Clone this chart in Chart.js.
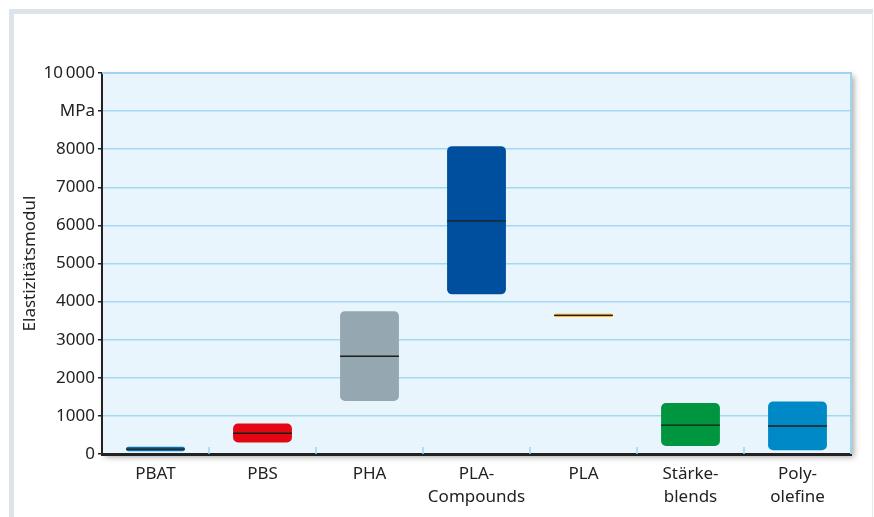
<!DOCTYPE html>
<html>
<head>
<meta charset="utf-8">
<script src="https://cdn.jsdelivr.net/npm/chart.js@4.4.0/dist/chart.umd.min.js"></script>
<style>
  html, body { margin: 0; padding: 0; background: #fff; }
  #frame {
    position: absolute; left: 9px; top: 9px; width: 858px; height: 520px;
    border-top: 5px solid #dce3ea; border-left: 5px solid #dce3ea; border-right: 1px solid #e6ebef;
  }
  #wrap { position: absolute; left: 0; top: 0; width: 874px; height: 517px; }
</style>
</head>
<body>
<div id="frame"></div>
<div id="wrap"><canvas id="myChart" width="874" height="517"></canvas></div>
<script>
// Elastizitätsmodul ranges (MPa)
const categories = ['PBAT', 'PBS', 'PHA', ['PLA-', 'Compounds'], 'PLA', ['Stärke-', 'blends'], ['Poly-', 'olefine']];
const lowValues = [70, 300, 1390, 4190, 3600, 210, 100];
const highValues = [190, 800, 3750, 8080, 3680, 1340, 1380];
const medianValues = [130, 545, 2565, 6120, 3640, 760, 735];
const barColors = ['#0a70aa', '#e30613', '#95a7b1', '#004f9f', '#f3a400', '#00963f', '#0089c7'];
const yTicks = [0, 1000, 2000, 3000, 4000, 5000, 6000, 7000, 8000, 9000, 10000];

const fontFamily = '"Noto Sans", sans-serif';

// background box with shadow, top/right light border, median lines and small ticks
const boxPlugin = {
    id: 'boxPlugin',
    beforeDraw(chart) {
        const ctx = chart.ctx;
        const a = chart.chartArea;
        ctx.save();
        ctx.shadowColor = 'rgba(0,0,0,0.35)';
        ctx.shadowBlur = 6;
        ctx.shadowOffsetX = 3;
        ctx.shadowOffsetY = 3;
        ctx.fillStyle = '#e9f5fd';
        ctx.fillRect(a.left, a.top, a.right - a.left, a.bottom - a.top);
        ctx.restore();
    },
    afterDatasetsDraw(chart) {
        const ctx = chart.ctx;
        const a = chart.chartArea;
        const yScale = chart.scales.y;
        const xScale = chart.scales.x;
        const meta = chart.getDatasetMeta(0);

        ctx.save();
        // median lines
        ctx.strokeStyle = '#1d1d1b';
        ctx.lineWidth = 1.3;
        meta.data.forEach((bar, i) => {
            const y = yScale.getPixelForValue(medianValues[i]);
            ctx.beginPath();
            ctx.moveTo(bar.x - bar.width / 2, y);
            ctx.lineTo(bar.x + bar.width / 2, y);
            ctx.stroke();
        });

        // light border on top and right
        ctx.strokeStyle = '#9fd3ee';
        ctx.lineWidth = 2;
        ctx.beginPath();
        ctx.moveTo(a.left, a.top);
        ctx.lineTo(a.right, a.top);
        ctx.lineTo(a.right, a.bottom);
        ctx.stroke();

        // small tick marks between categories
        ctx.lineWidth = 1.5;
        for (let i = 1; i < categories.length; i++) {
            const x = (xScale.getPixelForValue(i - 1) + xScale.getPixelForValue(i)) / 2;
            ctx.beginPath();
            ctx.moveTo(x, a.bottom - 7);
            ctx.lineTo(x, a.bottom);
            ctx.stroke();
        }
        ctx.restore();
    }
};

const ctx = document.getElementById('myChart').getContext('2d');
new Chart(ctx, {
    type: 'bar',
    data: {
        labels: categories,
        datasets: [{
            label: 'Elastizitätsmodul',
            data: lowValues.map((v, i) => [v, highValues[i]]),
            backgroundColor: barColors,
            borderWidth: 0,
            borderRadius: 5,
            borderSkipped: false,
            barPercentage: 0.55,
            categoryPercentage: 1
        }]
    },
    options: {
        responsive: false,
        animation: false,
        layout: {
            padding: { left: 0, right: 23, top: 73, bottom: 0 }
        },
        plugins: {
            legend: { display: false },
            tooltip: { enabled: false }
        },
        scales: {
            x: {
                grid: { display: false },
                border: { color: '#222', width: 3 },
                ticks: {
                    color: '#222',
                    padding: 1,
                    maxRotation: 0,
                    font: { family: fontFamily, size: 17, lineHeight: 1.35 }
                },
                afterFit(scale) { scale.height = 63; }
            },
            y: {
                min: 0,
                max: 10000,
                afterBuildTicks(scale) { scale.ticks = yTicks.map(v => ({ value: v })); },
                grid: { color: '#a5d8f1', lineWidth: 1.5, drawTicks: true, tickLength: 4, tickColor: '#222' },
                border: { color: '#222', width: 2 },
                ticks: {
                    color: '#222',
                    padding: 3,
                    font: { family: fontFamily, size: 17 },
                    callback(value) {
                        if (value === 10000) return '10\u2009000';
                        if (value === 9000) return 'MPa';
                        return value;
                    }
                },
                title: {
                    display: true,
                    text: 'Elastizitätsmodul',
                    color: '#222',
                    padding: { top: 20, bottom: 0 },
                    font: { family: fontFamily, size: 17 }
                },
                afterFit(scale) { scale.width = 102; }
            }
        }
    },
    plugins: [boxPlugin]
});
</script>
</body>
</html>
